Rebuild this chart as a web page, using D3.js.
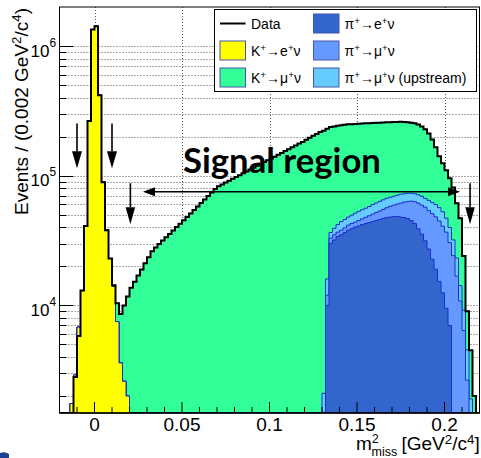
<!DOCTYPE html>
<html>
<head>
<meta charset="utf-8">
<script src="https://d3js.org/d3.v7.min.js"></script>
<style>
  body { margin: 0; background: #fff; }
  svg { display: block; font-family: "Liberation Sans", Arial, sans-serif; }
  .grid line { stroke: #555; stroke-dasharray: 1,2; stroke-width: 1; }
  .axis line { stroke: #000; stroke-width: 1; }
</style>
</head>
<body>
<div id="chart"></div>
<script>
var W = 481, H = 458;
var frame = { left: 59.5, right: 479.5, top: 7, bottom: 413 };

var binWidth = 0.002;
var xDomain = [-0.02, 0.22];
var yDomain = [1480, 2e6];

var xMajorTicks = [0, 0.05, 0.1, 0.15, 0.2];
var xTickLabels = ["0", "0.05", "0.1", "0.15", "0.2"];
var yMajorTicks = [1e4, 1e5, 1e6];
var yTickExponents = ["4", "5", "6"];

// counts per 0.002 GeV^2/c^4 bin, each array starts at the m2miss value in *Start
var dataStart = -0.014;
var dataCounts = [1200, 2800, 5800, 13000, 41000, 264000, 1340000, 1420000, 417000, 89000,
  38000, 23000, 14300, 10400, 8600, 10000, 11700, 13700,
  15200, 17000, 18900, 21100, 23500, 26100, 28000, 29700, 31600, 33500,
  35600, 37800, 40200, 42700, 45300, 48000, 51200, 54400, 57900, 61600,
  65600, 69800, 74200, 79000, 82900, 85700, 88500, 91600, 94700, 97800,
  101000, 104500, 108000, 111500, 115300, 119200, 123000, 127300, 131400, 135900,
  140300, 145100, 150000, 155000, 160300, 165500, 171000, 177000, 182000, 189000,
  196000, 203000, 210000, 217000, 222000, 230000, 237000, 240000, 243000, 245000,
  247000, 249000, 249500, 251000, 252000, 253000, 253500, 254000, 255000, 256000,
  256000, 257000, 258000, 258000, 259000, 260000, 260500, 259500, 258000, 256000,
  254000, 248000, 240000, 228000, 212000, 190000, 166000, 141000, 125000, 110000,
  95500, 81000, 61400, 47000, 24000, 9000, 4500, 2000, 0];

var kenuStart = -0.014;
var kenuCounts = [1750, 2900, 6800, 13000, 41000, 264000, 1340000, 1420000, 417000, 89000,
  38000, 23000, 14000, 7500, 3600, 2600, 2000, 1000];

var kmunuStart = 0.010;
var kmunuCounts = [300, 2900, 5000, 7400, 9700, 12700,
  15200, 17000, 18900, 21100, 23500, 26100, 28000, 29700, 31600, 33500,
  35600, 37800, 40200, 42700, 45300, 48000, 51200, 54400, 57900, 61600,
  65600, 69800, 74200, 79000, 82900, 85700, 88500, 91600, 94700, 97800,
  101000, 104500, 108000, 111500, 115300, 119200, 123000, 127300, 131400, 135900,
  140300, 145100, 150000, 155000, 160300, 165500, 171000, 177000, 182000, 189000,
  196000, 203000, 210000, 217000,
  220000, 214000, 200500, 200700, 201000, 200700, 201000, 201000, 199900, 199600,
  198800, 198300, 197300, 196100, 195000, 194400, 192600, 191800, 191000, 189800,
  189500, 189300, 188500, 186900, 184700, 182700, 181400, 176700, 170500, 161000,
  147400, 127700, 106000, 84300, 72300, 62900, 55600, 49000, 38200, 32800,
  14800, 4470, 2600, 2000];

var pienuStart = 0.132;
var pienuCounts = [10000, 30100, 32000, 34000, 35000, 36500, 38000, 39000, 40200, 41000,
  42000, 42800, 43500, 44300, 45100, 46000, 46800, 47600, 48000, 48500,
  48500, 48000, 47600, 46800, 45100, 42800, 39000, 35500, 31500, 27200,
  22700, 19000, 15300, 12500, 9500, 7000];

var pimunuStart = 0.130;
var pimunuCounts = [1500, 2000, 2900, 3000, 2700, 3000, 3100, 3600, 3800, 3700,
  4200, 4500, 5000, 5600, 6300, 6900, 7400, 8200, 9000, 10200,
  10800, 11900, 13500, 15000, 16300, 18600, 20300, 22500, 23800, 25700,
  26600, 28300, 29200, 29400, 28300, 27200, 23500, 24200, 16800, 10800,
  6400, 2650];

var piupStart = 0.130;
var piupCounts = [600, 4000, 3500, 4300, 5300, 6300, 6400, 6400, 6800, 7500,
  8000, 8200, 8400, 8800, 9400, 9600, 10000, 10200, 10400, 10000,
  10200, 10300, 10500, 10000, 10200, 9600, 9500, 9800, 10200, 9800,
  10800, 11300, 11800, 12000, 11900, 10400, 9400, 7800, 6400, 3400,
  2800, 1900, 1900];

// stack order, bottom first
var series = [
  { key: "kenu",   start: kenuStart,   counts: kenuCounts,   color: "#ffff00" },
  { key: "pienu",  start: pienuStart,  counts: pienuCounts,  color: "#3366cc" },
  { key: "pimunu", start: pimunuStart, counts: pimunuCounts, color: "#6699ff" },
  { key: "piup",   start: piupStart,   counts: piupCounts,   color: "#66ccff" },
  { key: "kmunu",  start: kmunuStart,  counts: kmunuCounts,  color: "#33ff99" }
];

var svg = d3.select("#chart").append("svg")
  .attr("width", W)
  .attr("height", H);

svg.append("rect").attr("width", W).attr("height", H).attr("fill", "#fff");

var x = d3.scaleLinear().domain(xDomain).range([frame.left, frame.right]);
var y = d3.scaleLog().domain(yDomain).range([frame.bottom, frame.top]).clamp(true);

var nBins = Math.round((xDomain[1] - xDomain[0]) / binWidth);
function spread(start, counts) {
  var arr = new Array(nBins).fill(0);
  var i0 = Math.round((start - xDomain[0]) / binWidth);
  counts.forEach(function (c, k) { arr[i0 + k] = c; });
  return arr;
}

// grid
var grid = svg.append("g").attr("class", "grid");
var yGrid = [];
[3, 4, 5, 6].forEach(function (p) {
  for (var m = 1; m < 10; m++) {
    var v = m * Math.pow(10, p);
    if (v > yDomain[0] && v < yDomain[1]) yGrid.push(v);
  }
});
grid.selectAll("line.h").data(yGrid).enter().append("line")
  .attr("x1", frame.left).attr("x2", frame.right)
  .attr("y1", function (d) { return Math.round(y(d)) + 0.5; })
  .attr("y2", function (d) { return Math.round(y(d)) + 0.5; });
grid.selectAll("line.v").data(xMajorTicks).enter().append("line")
  .attr("y1", frame.top).attr("y2", frame.bottom)
  .attr("x1", function (d) { return Math.round(x(d)) + 0.5; })
  .attr("x2", function (d) { return Math.round(x(d)) + 0.5; });

svg.append("clipPath").attr("id", "frameClip")
  .append("rect")
  .attr("x", frame.left).attr("y", frame.top)
  .attr("width", frame.right - frame.left).attr("height", frame.bottom - frame.top);

var plot = svg.append("g").attr("clip-path", "url(#frameClip)");

var rows = d3.range(nBins).map(function (i) {
  return { x0: xDomain[0] + i * binWidth };
});
series.forEach(function (s) {
  var vals = spread(s.start, s.counts);
  rows.forEach(function (r, i) { r[s.key] = vals[i]; });
});

var stacked = d3.stack().keys(series.map(function (s) { return s.key; }))(rows);

var area = d3.area()
  .curve(d3.curveStepAfter)
  .x(function (d) { return x(d.x); })
  .y0(frame.bottom)
  .y1(function (d) { return y(Math.max(d.v, 1)); });

var step = d3.line()
  .curve(d3.curveStepAfter)
  .x(function (d) { return x(d.x); })
  .y(function (d) { return y(Math.max(d.v, 1)); });

function histPoints(values) {
  var pts = values.map(function (v, i) { return { x: rows[i].x0, v: v }; });
  pts.push({ x: xDomain[1], v: values[values.length - 1] });
  return pts;
}
function outlinePoints(pts) {
  return [{ x: pts[0].x, v: 0 }].concat(pts, [{ x: xDomain[1], v: 0 }]);
}

stacked.slice().reverse().forEach(function (layer) {
  var s = series.find(function (d) { return d.key === layer.key; });
  var pts = histPoints(layer.map(function (d) { return d[1]; }));
  plot.append("path")
    .attr("d", area(pts))
    .attr("fill", s.color);
  plot.append("path")
    .attr("d", step(outlinePoints(pts)))
    .attr("fill", "none")
    .attr("stroke", "#1a2ecc")
    .attr("stroke-width", 1);
});

// data
var dataPts = histPoints(spread(dataStart, dataCounts));
plot.append("path")
  .attr("d", step(outlinePoints(dataPts)))
  .attr("fill", "none")
  .attr("stroke", "#000")
  .attr("stroke-width", 2);

// axes ticks
var axis = svg.append("g").attr("class", "axis");
var xMinor = d3.range(-0.01, 0.221, 0.01).filter(function (v) {
  return Math.abs(Math.round(v * 100) % 5) !== 0;
});
axis.selectAll("line.xmin").data(xMinor).enter().append("line")
  .attr("x1", function (d) { return x(d); }).attr("x2", function (d) { return x(d); })
  .attr("y1", frame.bottom).attr("y2", frame.bottom - 6);
axis.selectAll("line.xmaj").data(xMajorTicks).enter().append("line")
  .attr("x1", function (d) { return x(d); }).attr("x2", function (d) { return x(d); })
  .attr("y1", frame.bottom).attr("y2", frame.bottom - 11);
axis.selectAll("line.ymin").data(yGrid.filter(function (v) { return yMajorTicks.indexOf(v) < 0; }))
  .enter().append("line")
  .attr("x1", frame.left).attr("x2", frame.left + 7)
  .attr("y1", function (d) { return Math.round(y(d)) + 0.5; })
  .attr("y2", function (d) { return Math.round(y(d)) + 0.5; });
axis.selectAll("line.ymaj").data(yMajorTicks).enter().append("line")
  .attr("x1", frame.left).attr("x2", frame.left + 14)
  .attr("y1", function (d) { return Math.round(y(d)) + 0.5; })
  .attr("y2", function (d) { return Math.round(y(d)) + 0.5; });

// frame
svg.append("rect")
  .attr("x", frame.left).attr("y", frame.top)
  .attr("width", frame.right - frame.left).attr("height", frame.bottom - frame.top)
  .attr("fill", "none").attr("stroke", "#000").attr("stroke-width", 1);
svg.append("line")
  .attr("x1", frame.left).attr("x2", frame.right)
  .attr("y1", frame.bottom).attr("y2", frame.bottom)
  .attr("stroke", "#000").attr("stroke-width", 1.6);

function rich(sel, parts, size, supShift) {
  var shift = 0;
  parts.forEach(function (p) {
    var target = p[1] === "sup" ? -supShift : p[1] === "sub" ? 0.3 * size : 0;
    sel.append("tspan")
      .attr("dy", target - shift)
      .attr("font-size", p[1] ? 0.7 * size : size)
      .text(p[0]);
    shift = target;
  });
  return sel;
}

// tick labels
svg.selectAll("text.xl").data(xMajorTicks).enter().append("text")
  .attr("x", function (d) { return x(d); })
  .attr("y", 431)
  .attr("text-anchor", "middle")
  .attr("font-size", 19)
  .text(function (d, i) { return xTickLabels[i]; });

yMajorTicks.forEach(function (v, i) {
  var t = svg.append("text")
    .attr("x", 56)
    .attr("y", y(v) + 10.5)
    .attr("text-anchor", "end");
  rich(t, [["10", ""], [yTickExponents[i], "sup"]], 17, 10);
});

// axis titles
var yTitle = svg.append("text")
  .attr("transform", "translate(28,8) rotate(-90)")
  .attr("text-anchor", "end");
rich(yTitle, [["Events / (0.002 GeV", ""], ["2", "sup"], ["/c", ""], ["4", "sup"], [")", ""]], 19, 7.5);

svg.append("text").attr("x", 356).attr("y", 450).attr("font-size", 19).text("m");
svg.append("text").attr("x", 372).attr("y", 443).attr("font-size", 12).text("2");
svg.append("text").attr("x", 371.5).attr("y", 456).attr("font-size", 12.5).text("miss");
var xUnit = svg.append("text").attr("x", 401.5).attr("y", 450);
rich(xUnit, [["[GeV", ""], ["2", "sup"], ["/c", ""], ["4", "sup"], ["]", ""]], 19, 6.5);

// signal region annotation
var arrows = [
  { x1: -0.01, y1: 253000, x2: -0.01, y2: 114000, head: [10, 17] },
  { x1: 0.01, y1: 253000, x2: 0.01, y2: 114000, head: [10, 17] },
  { x1: 0.0205, y1: 87500, x2: 0.0205, y2: 42300, head: [9.5, 17] },
  { x1: 0.2146, y1: 87500, x2: 0.2146, y2: 42300, head: [9.5, 17] },
  { x1: 0.094, y1: 75300, x2: 0.0277, y2: 75300, head: [9, 12] },
  { x1: 0.094, y1: 75300, x2: 0.2089, y2: 75300, head: [9, 12] }
];
var ann = svg.append("g");
arrows.forEach(function (a) {
  var px1 = x(a.x1), py1 = y(a.y1), px2 = x(a.x2), py2 = y(a.y2);
  var dx = px2 - px1, dy = py2 - py1, len = Math.sqrt(dx * dx + dy * dy);
  var ux = dx / len, uy = dy / len;
  var bx = px2 - ux * a.head[1], by = py2 - uy * a.head[1];
  ann.append("line")
    .attr("x1", px1).attr("y1", py1).attr("x2", bx).attr("y2", by)
    .attr("stroke", "#000").attr("stroke-width", 1.6);
  ann.append("path")
    .attr("d", "M" + px2 + "," + py2 +
      "L" + (bx - uy * a.head[0] / 2) + "," + (by + ux * a.head[0] / 2) +
      "L" + (bx + uy * a.head[0] / 2) + "," + (by - ux * a.head[0] / 2) + "Z")
    .attr("fill", "#000");
});

var sig = svg.append("text")
  .attr("x", 183).attr("y", 173)
  .attr("font-family", "Lato, 'Open Sans', sans-serif")
  .attr("font-weight", "bold")
  .attr("font-size", 34)
  .text("Signal region");
var sigW = sig.node().getComputedTextLength();
sig.attr("font-size", 34 * 198 / sigW);

// legend
var leg = svg.append("g");
leg.append("rect")
  .attr("x", 214.5).attr("y", 9.5).attr("width", 262).attr("height", 82)
  .attr("fill", "#fff").attr("stroke", "#000").attr("stroke-width", 1);
var legendItems = [
  { col: 0, row: 0, type: "line", color: "#000", label: [["Data", ""]] },
  { col: 0, row: 1, type: "box", color: "#ffff00", label: [["K", ""], ["+", "sup"], ["\u2192e", ""], ["+", "sup"], ["\u03bd", ""]] },
  { col: 0, row: 2, type: "box", color: "#33ff99", label: [["K", ""], ["+", "sup"], ["\u2192\u03bc", ""], ["+", "sup"], ["\u03bd", ""]] },
  { col: 1, row: 0, type: "box", color: "#3366cc", label: [["\u03c0", ""], ["+", "sup"], ["\u2192e", ""], ["+", "sup"], ["\u03bd", ""]] },
  { col: 1, row: 1, type: "box", color: "#6699ff", label: [["\u03c0", ""], ["+", "sup"], ["\u2192\u03bc", ""], ["+", "sup"], ["\u03bd", ""]] },
  { col: 1, row: 2, type: "box", color: "#66ccff", label: [["\u03c0", ""], ["+", "sup"], ["\u2192\u03bc", ""], ["+", "sup"], ["\u03bd (upstream)", ""]] }
];
var colX = [220, 313.5], rowY = [23.5, 50.5, 77.5];
legendItems.forEach(function (it) {
  var x0 = colX[it.col], yc = rowY[it.row];
  if (it.type === "line") {
    leg.append("line").attr("x1", x0).attr("x2", x0 + 25.5).attr("y1", yc).attr("y2", yc)
      .attr("stroke", it.color).attr("stroke-width", 2);
  } else {
    leg.append("rect").attr("x", x0).attr("y", yc - 9.5).attr("width", 25.5).attr("height", 19)
      .attr("fill", it.color).attr("stroke", "#4455aa").attr("stroke-width", 1);
  }
  var t = leg.append("text").attr("x", x0 + 31).attr("y", yc + 5.5);
  rich(t, it.label, 14, 5);
});

// corner logo fragment
svg.append("path")
  .attr("d", "M0,453 Q5,451 9,454 L9,458 L0,458 Z")
  .attr("fill", "#1f3f93");
</script>
</body>
</html>
